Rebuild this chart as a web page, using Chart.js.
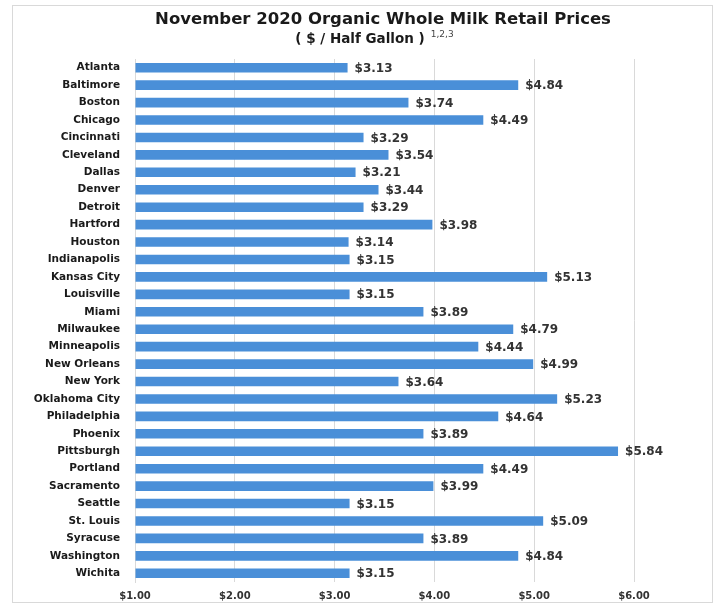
<!DOCTYPE html>
<html>
<head>
<meta charset="utf-8">
<script src="https://cdn.jsdelivr.net/npm/chart.js@4"></script>
<style>
  body { margin: 0; background: #fff; }
  #wrap { width: 717px; height: 605px; }
</style>
</head>
<body>
<div id="wrap"><canvas id="myChart" width="717" height="605"></canvas></div>
<script>
// cities and November 2020 prices ($ / half gallon)
const cities = ['Atlanta', 'Baltimore', 'Boston', 'Chicago', 'Cincinnati', 'Cleveland', 'Dallas',
  'Denver', 'Detroit', 'Hartford', 'Houston', 'Indianapolis', 'Kansas City', 'Louisville', 'Miami',
  'Milwaukee', 'Minneapolis', 'New Orleans', 'New York', 'Oklahoma City', 'Philadelphia', 'Phoenix',
  'Pittsburgh', 'Portland', 'Sacramento', 'Seattle', 'St. Louis', 'Syracuse', 'Washington', 'Wichita'];
const prices = [3.13, 4.84, 3.74, 4.49, 3.29, 3.54, 3.21, 3.44, 3.29, 3.98, 3.14, 3.15, 5.13, 3.15, 3.89,
  4.79, 4.44, 4.99, 3.64, 5.23, 4.64, 3.89, 5.84, 4.49, 3.99, 3.15, 5.09, 3.89, 4.84, 3.15];
const xTicks = [1, 2, 3, 4, 5, 6];

const FONT = '"DejaVu Sans", Verdana, sans-serif';

// frame, title and the value labels
const decor = {
  id: 'decor',
  beforeDraw(chart) {
    const c = chart.ctx;
    c.save();
    c.fillStyle = '#fff';
    c.fillRect(0, 0, chart.width, chart.height);
    c.strokeStyle = '#d9d9d9';
    c.lineWidth = 1;
    c.strokeRect(12.5, 5.5, 700, 597);
    c.restore();
  },
  afterDraw(chart) {
    const c = chart.ctx;
    c.save();
    c.fillStyle = '#1a1a1a';
    c.textAlign = 'center';
    c.textBaseline = 'middle';
    c.font = 'bold 16.5px ' + FONT;
    c.fillText('November 2020 Organic Whole Milk Retail Prices', 383, 20);
    c.font = 'bold 13.5px ' + FONT;
    const sub = '( $ / Half Gallon )';
    const w = c.measureText(sub).width;
    c.fillText(sub, 360, 39);
    c.textAlign = 'left';
    c.font = '9px ' + FONT;
    c.fillStyle = '#444';
    c.fillText('1,2,3', 360 + w / 2 + 6, 35);

    c.font = 'bold 12px ' + FONT;
    c.fillStyle = '#333';
    chart.getDatasetMeta(0).data.forEach((bar, i) => {
      c.fillText('$' + prices[i].toFixed(2), bar.x + 7, bar.y + 1);
    });
    c.restore();
  }
};

new Chart(document.getElementById('myChart'), {
  type: 'bar',
  data: {
    labels: cities,
    datasets: [{
      data: prices,
      base: 1,
      backgroundColor: '#4a8fd8',
      borderWidth: 0,
      barPercentage: 0.58,
      categoryPercentage: 0.95
    }]
  },
  options: {
    indexAxis: 'y',
    responsive: false,
    animation: false,
    layout: { padding: { top: 59, right: 83, left: 0, bottom: 0 } },
    plugins: { legend: { display: false }, tooltip: { enabled: false } },
    scales: {
      x: {
        min: 1,
        max: 6,
        afterBuildTicks(axis) { axis.ticks = xTicks.map(v => ({ value: v })); },
        afterFit(axis) { axis.height = 23; },
        grid: { color: '#d9d9d9', drawTicks: false },
        border: { display: false },
        ticks: {
          padding: 8,
          color: '#333',
          font: { family: FONT, size: 10, weight: 'bold' },
          callback: v => '$' + Number(v).toFixed(2)
        }
      },
      y: {
        afterFit(axis) { axis.width = 135; },
        grid: { display: false, drawTicks: false },
        border: { color: '#d9d9d9' },
        ticks: {
          padding: 15,
          autoSkip: false,
          color: '#1a1a1a',
          font: { family: FONT, size: 10.5, weight: 'bold' }
        }
      }
    }
  },
  plugins: [decor]
});
</script>
</body>
</html>
